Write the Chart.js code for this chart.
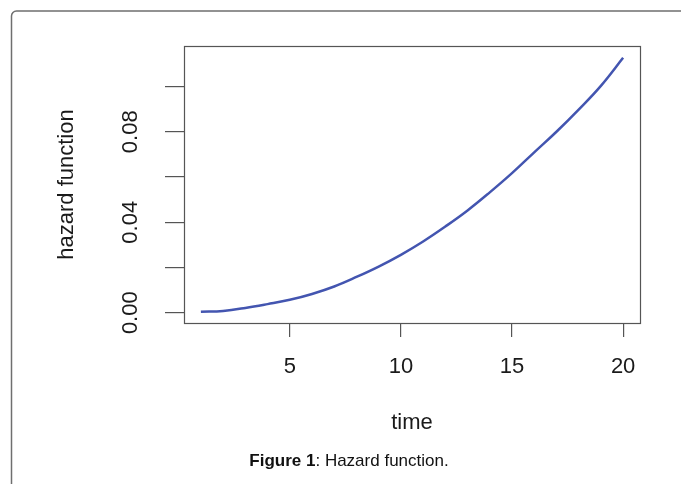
<!DOCTYPE html>
<html>
<head>
<meta charset="utf-8">
<title>Hazard function</title>
<script src="https://cdn.jsdelivr.net/npm/chart.js@4.4.1/dist/chart.umd.min.js"></script>
<style>
  html, body { margin: 0; padding: 0; background: #fff; }
  canvas { display: block; }
</style>
</head>
<body>
<canvas id="hazardChart" width="681" height="484"></canvas>
<script>
// data
const times = [1, 2, 3, 4, 5, 6, 7, 8, 9, 10, 11, 12, 13, 14, 15, 16, 17, 18, 19, 20];
const hazard = [0.0004, 0.0008, 0.0021, 0.0038, 0.0057, 0.0083, 0.0116, 0.0158, 0.0204, 0.0256,
                0.0315, 0.0381, 0.0452, 0.0532, 0.0617, 0.0709, 0.0800, 0.0898, 0.1003, 0.1127];
const xTicks = [5, 10, 15, 20];
const yTicks = [0, 0.02, 0.04, 0.06, 0.08, 0.10];
const yLabels = ['0.00', '0.04', '0.08'];

const FONT = '"Liberation Sans", Arial, sans-serif';

// draws the R-style box, labels, titles and the caption frame
const decorations = {
    id: 'decorations',
    afterDraw(chart) {
        const ctx = chart.ctx;
        const area = chart.chartArea;
        const xs = chart.scales.x;
        const ys = chart.scales.y;

        ctx.save();

        // outer figure frame (top + left with rounded corner)
        ctx.strokeStyle = '#6f6f6f';
        ctx.lineWidth = 1.5;
        ctx.beginPath();
        ctx.moveTo(11.5, 484);
        ctx.lineTo(11.5, 16);
        ctx.arcTo(11.5, 11, 16.5, 11, 5);
        ctx.lineTo(681, 11);
        ctx.stroke();

        // plot box
        ctx.strokeStyle = '#555';
        ctx.lineWidth = 1.2;
        ctx.strokeRect(Math.round(area.left) + 0.5, Math.round(area.top) + 0.5,
            Math.round(area.right - area.left), Math.round(area.bottom - area.top));

        ctx.fillStyle = '#1a1a1a';
        ctx.font = '22px ' + FONT;

        // x tick labels
        ctx.textAlign = 'center';
        ctx.textBaseline = 'alphabetic';
        xTicks.forEach(v => {
            ctx.fillText(String(v), xs.getPixelForValue(v), 373);
        });

        // y tick labels, rotated like R's default las=0
        yLabels.forEach(lbl => {
            const y = ys.getPixelForValue(parseFloat(lbl));
            ctx.save();
            ctx.translate(137, y);
            ctx.rotate(-Math.PI / 2);
            ctx.fillText(lbl, 0, 0);
            ctx.restore();
        });

        // axis titles
        ctx.fillText('time', (area.left + area.right) / 2, 429);
        ctx.save();
        ctx.translate(73, (area.top + area.bottom) / 2);
        ctx.rotate(-Math.PI / 2);
        ctx.fillText('hazard function', 0, 0);
        ctx.restore();

        // caption
        const boldPart = 'Figure 1';
        const restPart = ': Hazard function.';
        ctx.fillStyle = '#111';
        ctx.font = 'bold 17px ' + FONT;
        const wBold = ctx.measureText(boldPart).width;
        ctx.font = '17px ' + FONT;
        const wRest = ctx.measureText(restPart).width;
        const startX = 349 - (wBold + wRest) / 2;
        ctx.textAlign = 'left';
        ctx.font = 'bold 17px ' + FONT;
        ctx.fillText(boldPart, startX, 466);
        ctx.font = '17px ' + FONT;
        ctx.fillText(restPart, startX + wBold, 466);

        ctx.restore();
    }
};

const ctx = document.getElementById('hazardChart').getContext('2d');

new Chart(ctx, {
    type: 'line',
    data: {
        datasets: [{
            label: 'hazard function',
            data: times.map((t, i) => ({ x: t, y: hazard[i] })),
            borderColor: '#4355b0',
            borderWidth: 2.5,
            pointRadius: 0,
            fill: false,
            tension: 0.4
        }]
    },
    options: {
        responsive: false,
        animation: false,
        events: [],
        layout: {
            padding: { top: 46, right: 41, bottom: 0, left: 0 }
        },
        plugins: {
            legend: { display: false },
            tooltip: { enabled: false }
        },
        scales: {
            x: {
                type: 'linear',
                min: 0.24,
                max: 20.76,
                afterBuildTicks: (scale) => {
                    scale.ticks = xTicks.map(v => ({ value: v }));
                },
                afterFit: (scale) => { scale.height = 161; },
                ticks: { display: false },
                border: { display: false },
                grid: {
                    drawOnChartArea: false,
                    drawTicks: true,
                    tickLength: 14,
                    color: '#555',
                    lineWidth: 1.2
                }
            },
            y: {
                type: 'linear',
                min: -0.00455,
                max: 0.1179,
                afterBuildTicks: (scale) => {
                    scale.ticks = yTicks.map(v => ({ value: v }));
                },
                afterFit: (scale) => { scale.width = 184; },
                ticks: { display: false },
                border: { display: false },
                grid: {
                    drawOnChartArea: false,
                    drawTicks: true,
                    tickLength: 19,
                    color: '#555',
                    lineWidth: 1.2
                }
            }
        }
    },
    plugins: [decorations]
});
</script>
</body>
</html>
